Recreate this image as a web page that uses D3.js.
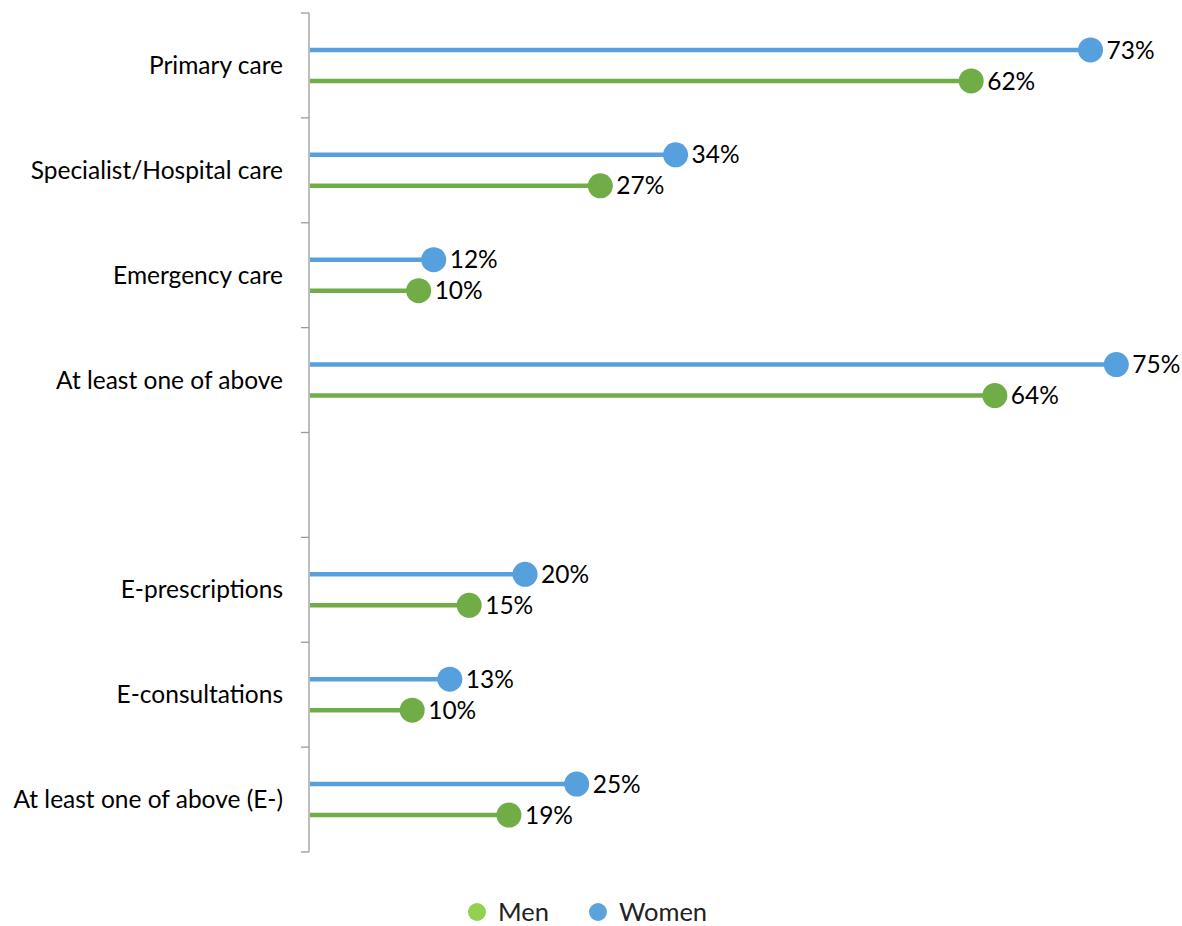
<!DOCTYPE html>
<html>
<head>
<meta charset="utf-8">
<script src="https://cdn.jsdelivr.net/npm/d3@7"></script>
<style>
  body { margin: 0; background: #fff; }
  svg text { font-family: Lato, "Open Sans", sans-serif; }
</style>
</head>
<body>
<div id="chart"></div>
<script>
// categories top to bottom ("" is the empty gap row)
var categories = [
  "Primary care",
  "Specialist/Hospital care",
  "Emergency care",
  "At least one of above",
  "",
  "E-prescriptions",
  "E-consultations",
  "At least one of above (E-)"
];
// shares in %, null for the gap row
var women = [72.7, 34.1, 11.6, 75.1, null, 20.1, 13.1, 24.9];
var men = [61.6, 27.1, 10.2, 63.8, null, 14.9, 9.6, 18.6];
var seriesNames = ["Women", "Men"];
var legendNames = ["Men", "Women"];

var width = 1182,
  height = 926,
  margin = { top: 13, left: 309, bottom: 76, right: 13 };

var colors = { Women: "#55A0DD", Men: "#70AD47" };
var legendColors = { Men: "#92D050", Women: "#5BA3DA" };

var svg = d3
  .select("#chart")
  .append("svg")
  .attr("width", width)
  .attr("height", height);

var x = d3.scaleLinear().domain([0, 80]).range([margin.left, margin.left + 860]);

var y = d3
  .scaleBand()
  .domain(d3.range(categories.length))
  .range([margin.top, height - margin.bottom + 2])
  .padding(0);

// inner offset of the two series within a band
var sub = d3.scalePoint().domain(seriesNames).range([-15.5, 15.5]);

var axisG = svg.append("g").attr("transform", `translate(${margin.left},0)`);

axisG.append("line")
  .attr("y1", y.range()[0])
  .attr("y2", y.range()[1])
  .attr("stroke", "#9a9a9a")
  .attr("stroke-width", 1.3);

// tick marks at band boundaries
axisG
  .selectAll(".tick-mark")
  .data(d3.range(categories.length + 1))
  .join("line")
  .attr("class", "tick-mark")
  .attr("x1", -8)
  .attr("x2", 0)
  .attr("y1", (i) => margin.top + i * y.step())
  .attr("y2", (i) => margin.top + i * y.step())
  .attr("stroke", "#9a9a9a")
  .attr("stroke-width", 1.3);

// category labels
axisG
  .selectAll(".cat-label")
  .data(categories)
  .join("text")
  .attr("class", "cat-label")
  .attr("x", -26)
  .attr("y", (d, i) => y(i) + y.bandwidth() / 2)
  .attr("dy", "0.35em")
  .attr("text-anchor", "end")
  .attr("font-size", 24.5)
  .attr("fill", "#000")
  .text((d) => d);

var data = [];
categories.forEach((c, i) => {
  if (women[i] != null) data.push({ i: i, s: "Women", v: women[i] });
  if (men[i] != null) data.push({ i: i, s: "Men", v: men[i] });
});

var cy = (d) => y(d.i) + y.bandwidth() / 2 + sub(d.s);

var marks = svg.append("g");

marks
  .selectAll(".stem")
  .data(data)
  .join("line")
  .attr("class", "stem")
  .attr("x1", x(0) + 1)
  .attr("x2", (d) => x(d.v))
  .attr("y1", cy)
  .attr("y2", cy)
  .attr("stroke", (d) => colors[d.s])
  .attr("stroke-width", 4.5);

marks
  .selectAll(".dot")
  .data(data)
  .join("circle")
  .attr("class", "dot")
  .attr("cx", (d) => x(d.v))
  .attr("cy", cy)
  .attr("r", 12.5)
  .attr("fill", (d) => colors[d.s]);

marks
  .selectAll(".val")
  .data(data)
  .join("text")
  .attr("class", "val")
  .attr("x", (d) => x(d.v) + 16)
  .attr("y", cy)
  .attr("dy", "0.35em")
  .attr("font-size", 24.5)
  .attr("fill", "#000")
  .text((d) => d3.format(".0f")(d.v) + "%");

// legend
var legend = svg
  .append("g")
  .attr("transform", "translate(0,912)");

var lx = [477, 598];
var lg = legend
  .selectAll(".lg")
  .data(legendNames)
  .join("g")
  .attr("class", "lg")
  .attr("transform", (d, i) => `translate(${lx[i]},0)`);

lg.append("circle")
  .attr("r", 9)
  .attr("fill", (d) => legendColors[d]);

lg.append("text")
  .attr("x", 21)
  .attr("dy", "0.34em")
  .attr("font-size", 25.5)
  .attr("fill", "#222")
  .text((d) => d);
</script>
</body>
</html>
